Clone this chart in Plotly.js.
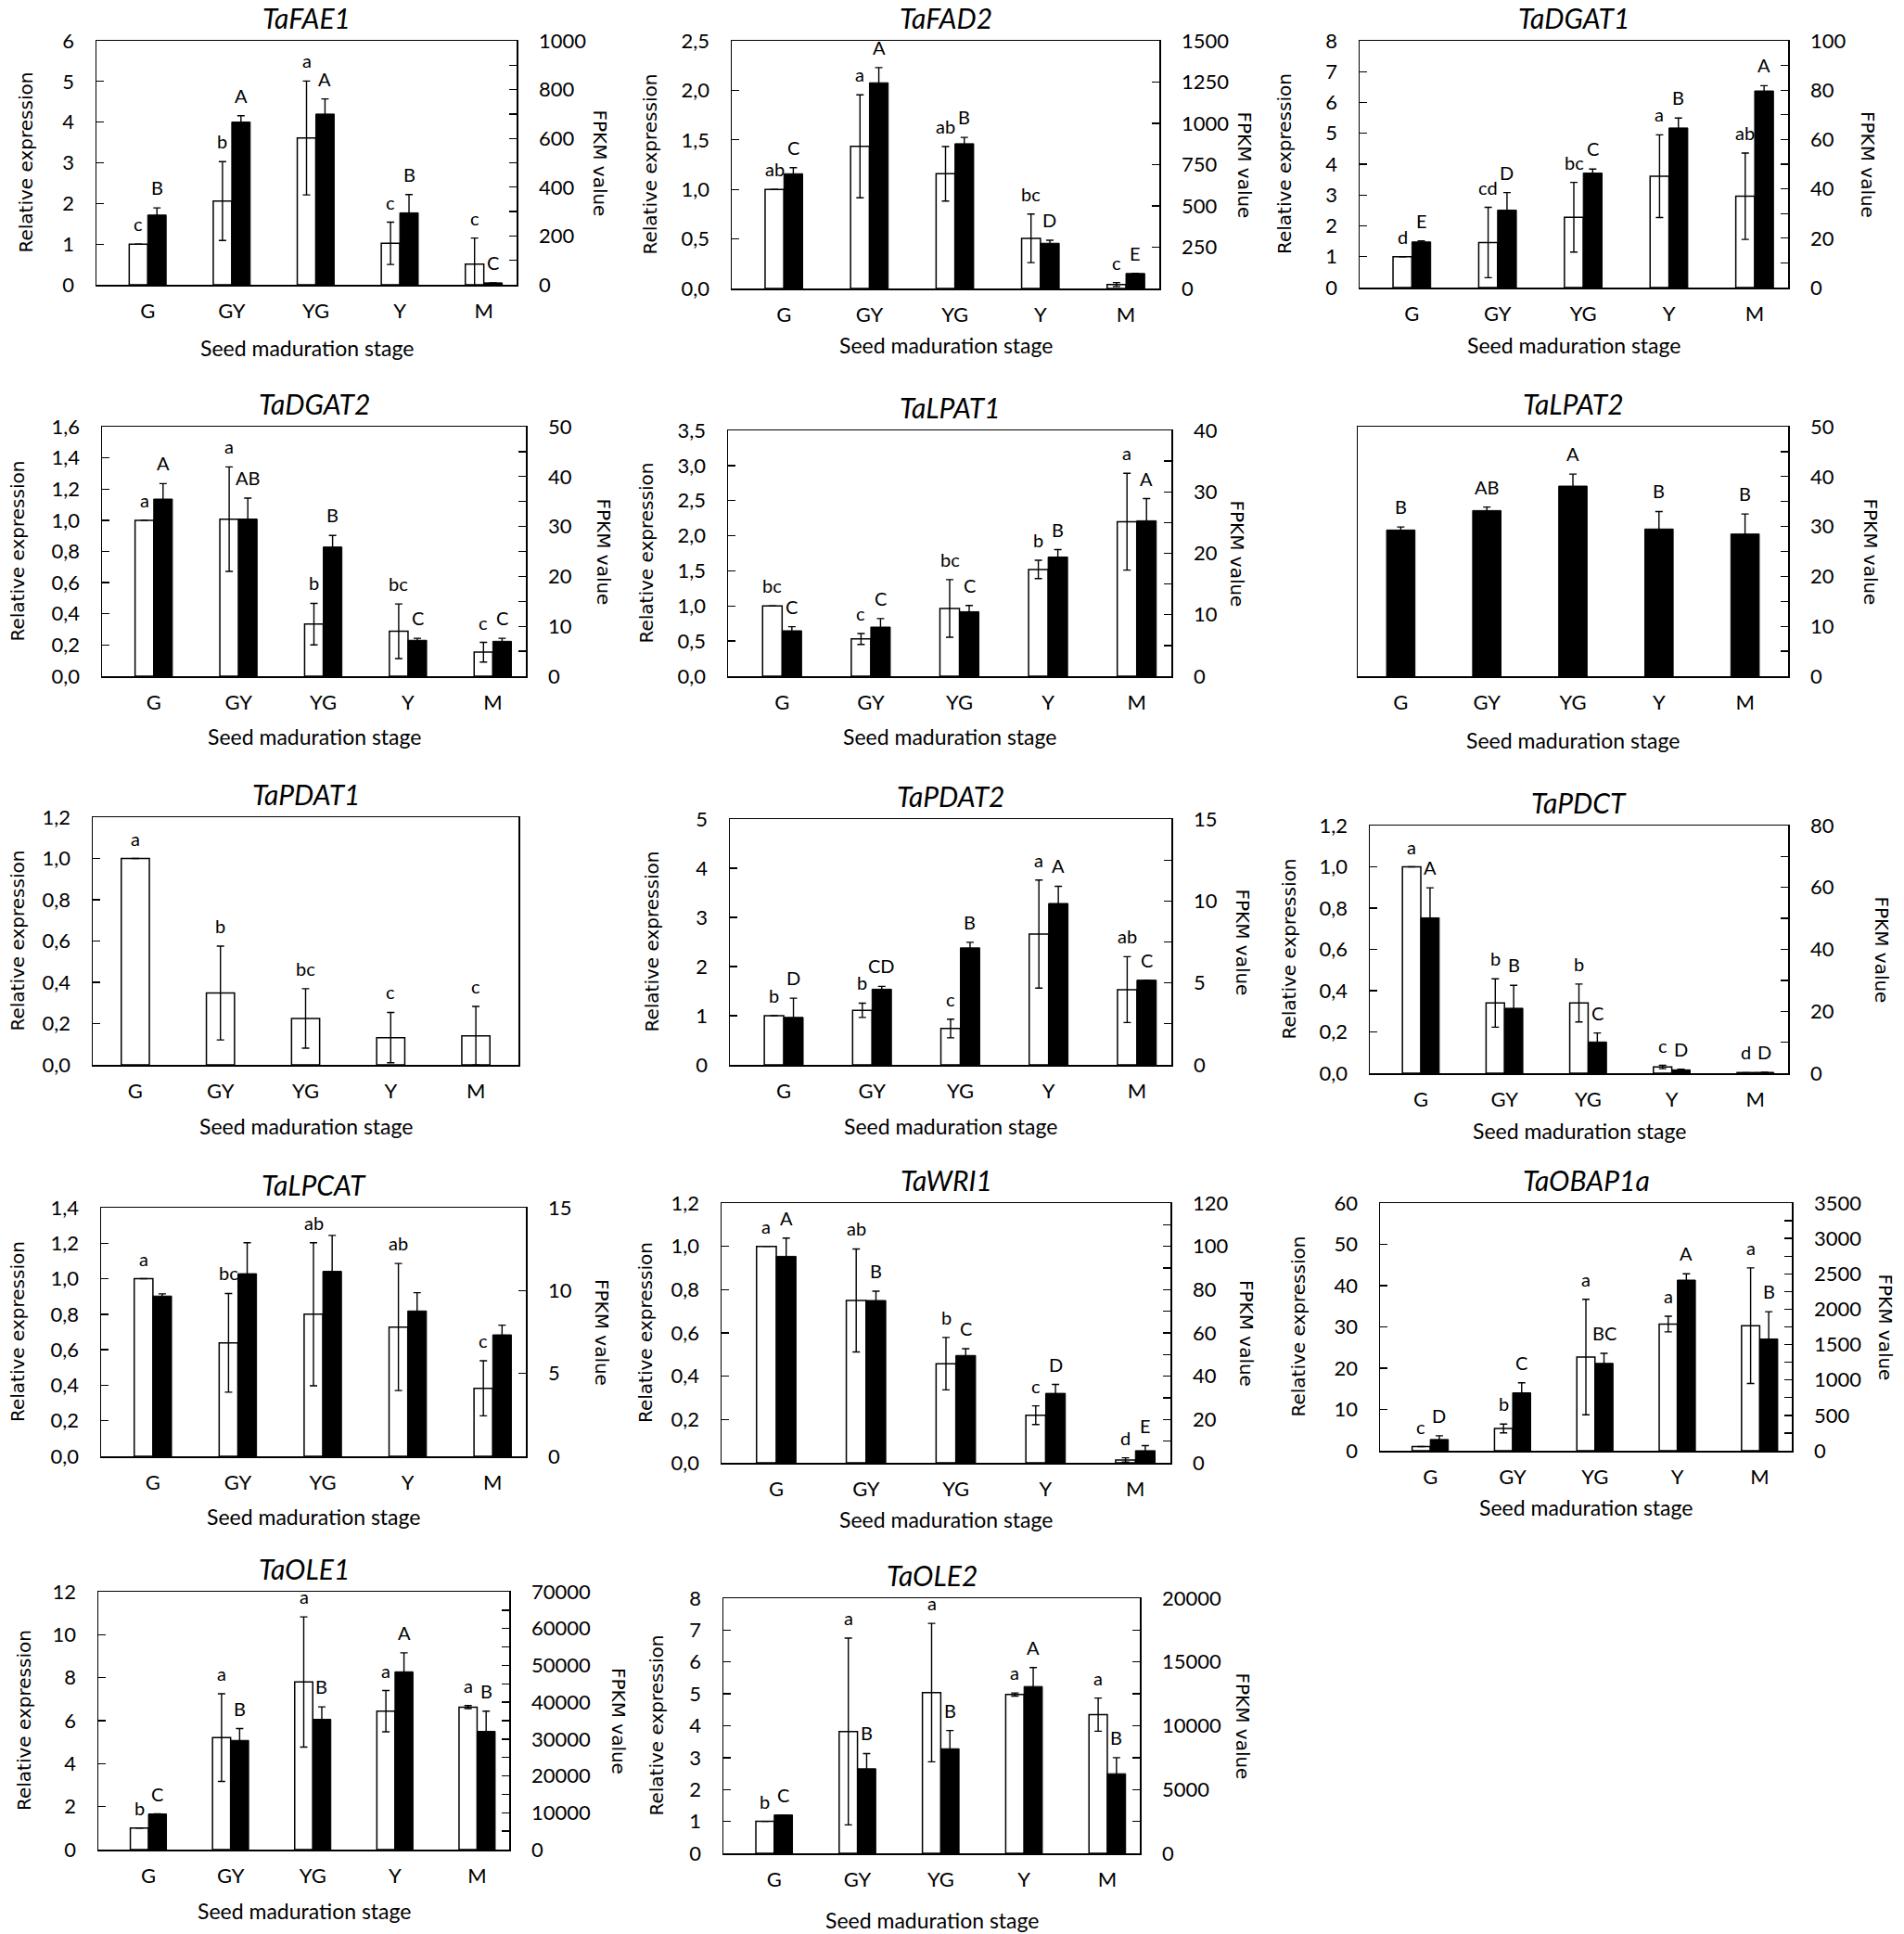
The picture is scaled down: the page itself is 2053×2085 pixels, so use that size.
<!DOCTYPE html>
<html><head><meta charset="utf-8">
<script src="https://cdn.plot.ly/plotly-3.0.1.min.js"></script>
<style>body{margin:0;background:#fff}</style>
</head><body><div id="chart" style="width:2053px;height:2085px"></div>
<script>
const stages = ['G','GY','YG','Y','M'];

// TaFAE1
const fae1Rel = [1.0, 2.06, 3.61, 1.02, 0.51];
const fae1RelErr = [0, 0.97, 1.40, 0.52, 0.64];
const fae1RelLet = ['c','b','a','c','c'];
const fae1Fpkm = [286, 667, 700, 295, 8];
const fae1FpkmErr = [29, 26, 62, 75, 0];
const fae1FpkmLet = ['B','A','A','B','C'];
const fae1RelTicks = ['0','1','2','3','4','5','6'];
const fae1FpkmTicks = ['0','200','400','600','800','1000'];

// TaFAD2
const fad2Rel = [1.0, 1.435, 1.158, 0.506, 0.04];
const fad2RelErr = [0, 0.52, 0.275, 0.245, 0.02];
const fad2RelLet = ['ab','a','ab','bc','c'];
const fad2Fpkm = [695, 1246, 877, 274, 91];
const fad2FpkmErr = [37, 92, 38, 18, 0];
const fad2FpkmLet = ['C','A','B','D','E'];
const fad2RelTicks = ['0,0','0,5','1,0','1,5','2,0','2,5'];
const fad2FpkmTicks = ['0','250','500','750','1000','1250','1500'];

// TaDGAT1
const dgat1Rel = [1.0, 1.46, 2.28, 3.61, 2.96];
const dgat1RelErr = [0, 1.14, 1.13, 1.34, 1.40];
const dgat1RelLet = ['d','cd','bc','a','ab'];
const dgat1Fpkm = [18.5, 31.4, 46.4, 64.7, 79.7];
const dgat1FpkmErr = [0.4, 7.1, 1.6, 4.0, 2.1];
const dgat1FpkmLet = ['E','D','C','B','A'];
const dgat1RelTicks = ['0','1','2','3','4','5','6','7','8'];
const dgat1FpkmTicks = ['0','20','40','60','80','100'];

// TaDGAT2
const dgat2Rel = [1.0, 1.007, 0.334, 0.288, 0.154];
const dgat2RelErr = [0, 0.335, 0.133, 0.175, 0.063];
const dgat2RelLet = ['a','a','b','bc','c'];
const dgat2Fpkm = [35.5, 31.5, 25.9, 7.2, 7.0];
const dgat2FpkmErr = [3.1, 4.2, 2.3, 0.4, 0.6];
const dgat2FpkmLet = ['A','AB','B','C','C'];
const dgat2RelTicks = ['0,0','0,2','0,4','0,6','0,8','1,0','1,2','1,4','1,6'];
const dgat2FpkmTicks = ['0','10','20','30','40','50'];

// TaLPAT1
const lpat1Rel = [1.0, 0.53, 0.965, 1.52, 2.2];
const lpat1RelErr = [0, 0.077, 0.41, 0.13, 0.69];
const lpat1RelLet = ['bc','c','bc','b','a'];
const lpat1Fpkm = [7.4, 8.0, 10.5, 19.4, 25.3];
const lpat1FpkmErr = [0.66, 1.37, 1.0, 1.2, 3.6];
const lpat1FpkmLet = ['C','C','C','B','A'];
const lpat1RelTicks = ['0,0','0,5','1,0','1,5','2,0','2,5','3,0','3,5'];
const lpat1FpkmTicks = ['0','10','20','30','40'];

// TaLPAT2 (FPKM only)
const lpat2Fpkm = [29.3, 33.2, 38.1, 29.5, 28.5];
const lpat2FpkmErr = [0.6, 0.7, 2.4, 3.5, 4.0];
const lpat2FpkmLet = ['B','AB','A','B','B'];
const lpat2FpkmTicks = ['0','10','20','30','40','50'];

// TaPDAT1 (relative expression only)
const pdat1Rel = [1.0, 0.348, 0.225, 0.132, 0.141];
const pdat1RelErr = [0, 0.227, 0.144, 0.122, 0.142];
const pdat1RelLet = ['a','b','bc','c','c'];
const pdat1RelTicks = ['0,0','0,2','0,4','0,6','0,8','1,0','1,2'];

// TaPDAT2
const pdat2Rel = [1.0, 1.11, 0.74, 2.66, 1.53];
const pdat2RelErr = [0, 0.145, 0.19, 1.1, 0.67];
const pdat2RelLet = ['b','b','c','a','ab'];
const pdat2Fpkm = [2.9, 4.62, 7.14, 9.85, 5.17];
const pdat2FpkmErr = [1.17, 0.17, 0.34, 1.05, 0];
const pdat2FpkmLet = ['D','CD','B','A','C'];
const pdat2RelTicks = ['0','1','2','3','4','5'];
const pdat2FpkmTicks = ['0','5','10','15'];

// TaPDCT
const pdctRel = [1.0, 0.34, 0.34, 0.03, 0.003];
const pdctRelErr = [0, 0.117, 0.092, 0.008, 0];
const pdctRelLet = ['a','b','b','c','d'];
const pdctFpkm = [50.2, 21.0, 10.1, 1.1, 0.3];
const pdctFpkmErr = [9.7, 7.4, 2.9, 0.2, 0];
const pdctFpkmLet = ['A','B','C','D','D'];
const pdctRelTicks = ['0,0','0,2','0,4','0,6','0,8','1,0','1,2'];
const pdctFpkmTicks = ['0','20','40','60','80'];

// TaLPCAT
const lpcatRel = [1.0, 0.639, 0.8, 0.728, 0.383];
const lpcatRelErr = [0, 0.278, 0.403, 0.358, 0.155];
const lpcatRelLet = ['a','bc','ab','ab','c'];
const lpcatFpkm = [9.67, 11.02, 11.16, 8.77, 7.33];
const lpcatFpkmErr = [0.13, 1.87, 2.17, 1.1, 0.58];
const lpcatFpkmLet = ['','','','',''];
const lpcatRelTicks = ['0,0','0,2','0,4','0,6','0,8','1,0','1,2','1,4'];
const lpcatFpkmTicks = ['0','5','10','15'];

// TaWRI1
const wri1Rel = [1.0, 0.75, 0.458, 0.22, 0.013];
const wri1RelErr = [0, 0.238, 0.121, 0.043, 0.01];
const wri1RelLet = ['a','ab','b','c','d'];
const wri1Fpkm = [95.4, 75.0, 49.6, 32.1, 5.6];
const wri1FpkmErr = [8.4, 4.3, 3.1, 4.1, 2.3];
const wri1FpkmLet = ['A','B','C','D','E'];
const wri1RelTicks = ['0,0','0,2','0,4','0,6','0,8','1,0','1,2'];
const wri1FpkmTicks = ['0','20','40','60','80','100','120'];

// TaOBAP1a
const obapRel = [1.0, 5.39, 22.7, 30.7, 30.3];
const obapRelErr = [0, 1.06, 14.0, 1.9, 14.0];
const obapRelLet = ['c','b','a','a','a'];
const obapFpkm = [159, 819, 1235, 2412, 1580];
const obapFpkmErr = [53, 141, 141, 88, 385];
const obapFpkmLet = ['D','C','BC','A','B'];
const obapRelTicks = ['0','10','20','30','40','50','60'];
const obapFpkmTicks = ['0','500','1000','1500','2000','2500','3000','3500'];

// TaOLE1
const ole1Rel = [1.0, 5.21, 7.8, 6.44, 6.63];
const ole1RelErr = [0, 2.04, 3.03, 0.96, 0.07];
const ole1RelLet = ['b','a','a','a','a'];
const ole1Fpkm = [9690, 29650, 35380, 48270, 32100];
const ole1FpkmErr = [0, 3200, 3370, 5140, 5470];
const ole1FpkmLet = ['C','B','B','A','B'];
const ole1RelTicks = ['0','2','4','6','8','10','12'];
const ole1FpkmTicks = ['0','10000','20000','30000','40000','50000','60000','70000'];

// TaOLE2
const ole2Rel = [1.0, 3.82, 5.04, 4.98, 4.35];
const ole2RelErr = [0, 2.93, 2.17, 0.05, 0.52];
const ole2RelLet = ['b','a','a','a','a'];
const ole2Fpkm = [3010, 6630, 8200, 13080, 6240];
const ole2FpkmErr = [0, 1190, 1430, 1480, 1260];
const ole2FpkmLet = ['C','B','B','A','B'];
const ole2RelTicks = ['0','1','2','3','4','5','6','7','8'];
const ole2FpkmTicks = ['0','5000','10000','15000','20000'];

const panels = [
  {title:'TaFAE1', rel:fae1Rel, relErr:fae1RelErr, relLet:fae1RelLet, fpkm:fae1Fpkm, fpkmErr:fae1FpkmErr, fpkmLet:fae1FpkmLet, relTicks:fae1RelTicks, fpkmTicks:fae1FpkmTicks, minor:100},
  {title:'TaFAD2', rel:fad2Rel, relErr:fad2RelErr, relLet:fad2RelLet, fpkm:fad2Fpkm, fpkmErr:fad2FpkmErr, fpkmLet:fad2FpkmLet, relTicks:fad2RelTicks, fpkmTicks:fad2FpkmTicks, minor:250},
  {title:'TaDGAT1', rel:dgat1Rel, relErr:dgat1RelErr, relLet:dgat1RelLet, fpkm:dgat1Fpkm, fpkmErr:dgat1FpkmErr, fpkmLet:dgat1FpkmLet, relTicks:dgat1RelTicks, fpkmTicks:dgat1FpkmTicks, minor:10},
  {title:'TaDGAT2', rel:dgat2Rel, relErr:dgat2RelErr, relLet:dgat2RelLet, fpkm:dgat2Fpkm, fpkmErr:dgat2FpkmErr, fpkmLet:dgat2FpkmLet, relTicks:dgat2RelTicks, fpkmTicks:dgat2FpkmTicks, minor:5},
  {title:'TaLPAT1', rel:lpat1Rel, relErr:lpat1RelErr, relLet:lpat1RelLet, fpkm:lpat1Fpkm, fpkmErr:lpat1FpkmErr, fpkmLet:lpat1FpkmLet, relTicks:lpat1RelTicks, fpkmTicks:lpat1FpkmTicks, minor:5},
  {title:'TaLPAT2', fpkm:lpat2Fpkm, fpkmErr:lpat2FpkmErr, fpkmLet:lpat2FpkmLet, fpkmTicks:lpat2FpkmTicks, minor:5},
  {title:'TaPDAT1', rel:pdat1Rel, relErr:pdat1RelErr, relLet:pdat1RelLet, relTicks:pdat1RelTicks},
  {title:'TaPDAT2', rel:pdat2Rel, relErr:pdat2RelErr, relLet:pdat2RelLet, fpkm:pdat2Fpkm, fpkmErr:pdat2FpkmErr, fpkmLet:pdat2FpkmLet, relTicks:pdat2RelTicks, fpkmTicks:pdat2FpkmTicks, minor:2.5},
  {title:'TaPDCT', rel:pdctRel, relErr:pdctRelErr, relLet:pdctRelLet, fpkm:pdctFpkm, fpkmErr:pdctFpkmErr, fpkmLet:pdctFpkmLet, relTicks:pdctRelTicks, fpkmTicks:pdctFpkmTicks, minor:10},
  {title:'TaLPCAT', rel:lpcatRel, relErr:lpcatRelErr, relLet:lpcatRelLet, fpkm:lpcatFpkm, fpkmErr:lpcatFpkmErr, fpkmLet:lpcatFpkmLet, relTicks:lpcatRelTicks, fpkmTicks:lpcatFpkmTicks, minor:5},
  {title:'TaWRI1', rel:wri1Rel, relErr:wri1RelErr, relLet:wri1RelLet, fpkm:wri1Fpkm, fpkmErr:wri1FpkmErr, fpkmLet:wri1FpkmLet, relTicks:wri1RelTicks, fpkmTicks:wri1FpkmTicks, minor:10},
  {title:'TaOBAP1a', rel:obapRel, relErr:obapRelErr, relLet:obapRelLet, fpkm:obapFpkm, fpkmErr:obapFpkmErr, fpkmLet:obapFpkmLet, relTicks:obapRelTicks, fpkmTicks:obapFpkmTicks, minor:250},
  {title:'TaOLE1', rel:ole1Rel, relErr:ole1RelErr, relLet:ole1RelLet, fpkm:ole1Fpkm, fpkmErr:ole1FpkmErr, fpkmLet:ole1FpkmLet, relTicks:ole1RelTicks, fpkmTicks:ole1FpkmTicks, minor:5000},
  {title:'TaOLE2', rel:ole2Rel, relErr:ole2RelErr, relLet:ole2RelLet, fpkm:ole2Fpkm, fpkmErr:ole2FpkmErr, fpkmLet:ole2FpkmLet, relTicks:ole2RelTicks, fpkmTicks:ole2FpkmTicks, minor:2500}
];

// layout: plot boxes in pixels [left, right, top, bottom]
const boxes = [
  [104,557,44,307],[789,1250,44,311],[1466,1928,44,310],
  [110,567,460,729],[785,1263,464,729],[1464,1928,460,729],
  [100,559,881,1148],[787,1263,883,1148],[1477,1928,890,1157],
  [109,567,1302,1570],[778,1262,1297,1577],[1488,1932,1297,1564],
  [106,549,1716,1994],[780,1229,1723,1998]
];
const leftTitleGap  = [77,89,81,92,88,0,81,85,88,90,82,89,80,73];
const rightTitleGap = [90,92,86,84,70,89,0,77,101,82,82,101,118,111];
const xTitleGap     = [68,61,62,65,65,69,66,66,62,65,61,61,66,72];

const PW = 2053, PH = 2085;
const W2 = 0.22, W1 = 0.33;
const toNum = s => Number(String(s).replace(',', '.'));
const tickFont = {family:'Lato, sans-serif', size:22, color:'#000'};
const letterFont = {family:'Lato, sans-serif', size:20, color:'#000'};

const data = [];
const annotations = [];
const layout = {
  width: PW, height: PH, margin:{l:0,r:0,t:0,b:0},
  paper_bgcolor:'#fff', plot_bgcolor:'#fff', showlegend:false,
  barmode:'overlay', hovermode:false,
  font:{family:'Lato, sans-serif', size:22, color:'#000'},
  annotations: annotations
};

panels.forEach((p, i) => {
  const [L, R, T, B] = boxes[i];
  const xid = i === 0 ? 'x' : 'x' + (i + 1);
  const xkey = 'xaxis' + (i === 0 ? '' : (i + 1));
  const n1 = 2 * i + 1, n2 = 2 * i + 2;
  const y1 = n1 === 1 ? 'y' : 'y' + n1, y2 = 'y' + n2;
  const y1key = 'yaxis' + (n1 === 1 ? '' : n1), y2key = 'yaxis' + n2;
  const hasRel = !!p.rel, hasF = !!p.fpkm, both = hasRel && hasF;
  const w = both ? W2 : W1;
  const xs = stages.map((s, k) => k);

  layout[xkey] = {
    domain:[L / PW, R / PW], range: both ? [-0.61, 4.39] : [-0.5, 4.5], anchor: y1,
    tickmode:'array', tickvals: xs, ticktext: stages, ticks:'',
    showline:true, linecolor:'#000', linewidth:1.5, mirror:true,
    showgrid:false, zeroline:false, fixedrange:true, tickfont: tickFont, ticklabelstandoff: 8
  };
  const relVals = hasRel ? p.relTicks.map(toNum) : [0, 1];
  layout[y1key] = {
    domain:[1 - B / PH, 1 - T / PH], anchor: xid, range:[0, Math.max(...relVals)],
    showline:true, linecolor:'#000', linewidth:1.5, mirror: !hasF,
    showgrid:false, zeroline:false, fixedrange:true,
    tickmode:'array', tickvals: hasRel ? relVals : [], ticktext: hasRel ? p.relTicks : [],
    ticks: hasRel ? 'inside' : '', ticklen:8, tickwidth:1.3, tickcolor:'#000',
    showticklabels: hasRel, tickfont: tickFont, ticklabelstandoff: 18
  };
  if (hasF) {
    const fVals = p.fpkmTicks.map(toNum);
    const fMax = Math.max(...fVals);
    const tv = [], tt = [];
    const nSteps = Math.round(fMax / p.minor);
    for (let s = 0; s <= nSteps; s++) {
      const v = s * p.minor;
      tv.push(v);
      const idx = fVals.findIndex(f => Math.abs(f - v) < 1e-9);
      tt.push(idx >= 0 ? p.fpkmTicks[idx] : '');
    }
    layout[y2key] = {
      domain:[1 - B / PH, 1 - T / PH], anchor: xid, overlaying: y1, side:'right', range:[0, fMax],
      showline:true, linecolor:'#000', linewidth:1.5,
      showgrid:false, zeroline:false, fixedrange:true,
      tickmode:'array', tickvals: tv, ticktext: tt,
      ticks:'inside', ticklen:8, tickwidth:1.3, tickcolor:'#000',
      tickfont: tickFont, ticklabelstandoff: 18
    };
  }

  if (hasRel) {
    data.push({
      type:'bar', x: xs, y: p.rel, xaxis: xid, yaxis: y1,
      width: w, offset: both ? -w : -w / 2,
      marker:{color:'#fff', line:{color:'#000', width:1.5}},
      error_y:{type:'data', array: p.relErr, visible:true, color:'#000', thickness:1.4, width:4},
      hoverinfo:'skip'
    });
    p.rel.forEach((v, k) => {
      if (!p.relLet[k]) return;
      annotations.push({
        x: k + (both ? -w / 2 : 0), y: v + p.relErr[k], xref: xid, yref: y1,
        text: p.relLet[k], showarrow:false, yanchor:'bottom', yshift:8, font: letterFont
      });
    });
  } else {
    // empty trace so that the base subplot (x, left y) exists for the frame and x labels
    data.push({type:'scatter', x:[], y:[], xaxis: xid, yaxis: y1, hoverinfo:'skip', showlegend:false});
  }
  if (hasF) {
    data.push({
      type:'bar', x: xs, y: p.fpkm, xaxis: xid, yaxis: y2,
      width: w, offset: both ? 0 : -w / 2,
      marker:{color:'#000', line:{color:'#000', width:1}},
      error_y:{type:'data', array: p.fpkmErr, visible:true, color:'#000', thickness:1.4, width:4},
      hoverinfo:'skip'
    });
    p.fpkm.forEach((v, k) => {
      if (!p.fpkmLet[k]) return;
      annotations.push({
        x: k + (both ? w / 2 : 0), y: v + p.fpkmErr[k], xref: xid, yref: y2,
        text: p.fpkmLet[k], showarrow:false, yanchor:'bottom', yshift:8, font: letterFont
      });
    });
  }

  // panel title
  annotations.push({
    x: (L + R) / 2 / PW, y: 1 - (T - 25) / PH, xref:'paper', yref:'paper',
    text:'<i>' + p.title + '</i>', showarrow:false, xanchor:'center', yanchor:'middle',
    font:{family:'Lato, sans-serif', size:30, color:'#000'}
  });
  // x title
  annotations.push({
    x: (L + R) / 2 / PW, y: 1 - (B + xTitleGap[i]) / PH, xref:'paper', yref:'paper',
    text:'Seed maduration stage', showarrow:false, xanchor:'center', yanchor:'middle',
    font:{family:'Lato, sans-serif', size:23, color:'#000'}
  });
  if (hasRel) {
    annotations.push({
      x: (L - leftTitleGap[i]) / PW, y: 1 - (T + B) / 2 / PH, xref:'paper', yref:'paper',
      text:'Relative expression', showarrow:false, textangle:-90, xanchor:'center', yanchor:'middle',
      font:{family:'DejaVu Sans, sans-serif', size:20, color:'#000'}
    });
  }
  if (hasF) {
    annotations.push({
      x: (R + rightTitleGap[i]) / PW, y: 1 - (T + B) / 2 / PH, xref:'paper', yref:'paper',
      text:'FPKM value', showarrow:false, textangle:90, xanchor:'center', yanchor:'middle',
      font:{family:'DejaVu Sans, sans-serif', size:20, color:'#000'}
    });
  }
});

Plotly.newPlot('chart', data, layout, {staticPlot:true, displayModeBar:false});
</script>
</body></html>
